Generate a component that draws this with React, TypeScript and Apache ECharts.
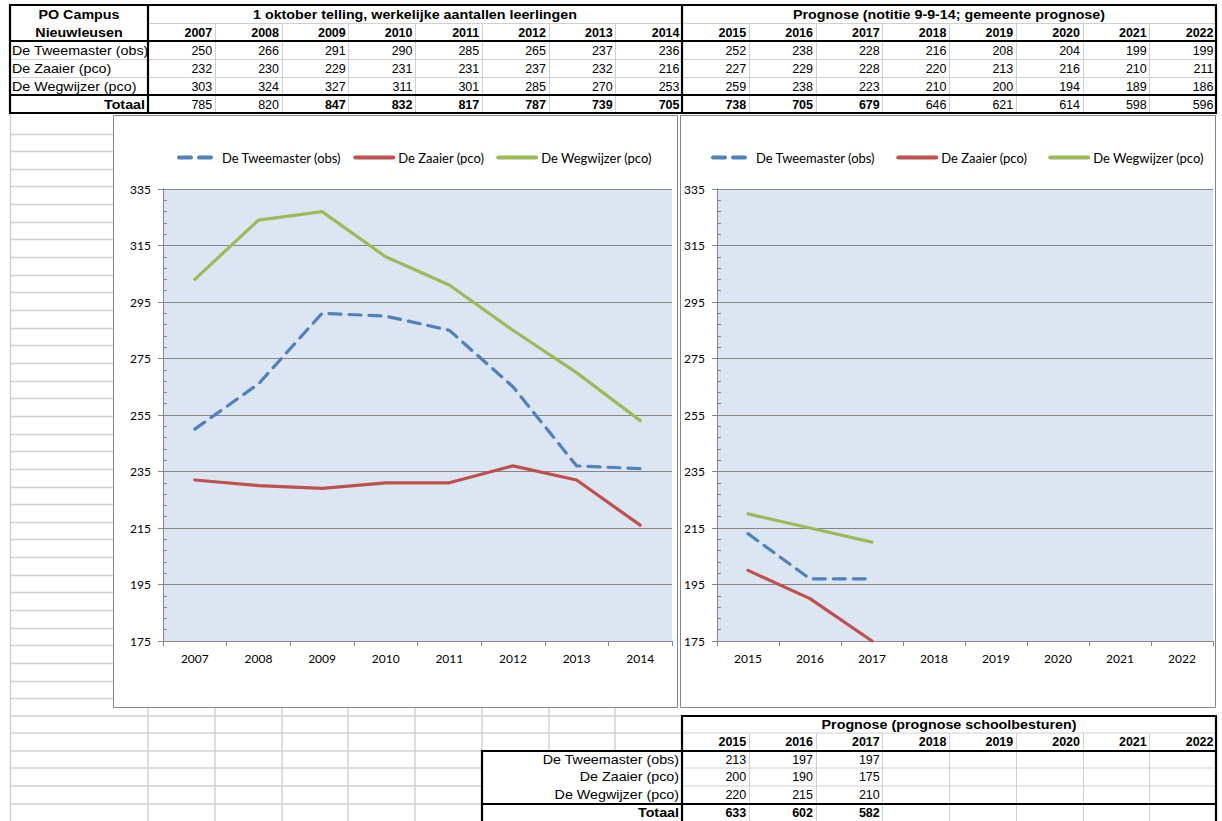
import React, { useEffect, useRef } from "react";
import * as echarts from "echarts";

// ---------- DATA ----------
const yearsActual = ["2007", "2008", "2009", "2010", "2011", "2012", "2013", "2014"];
const yearsForecast = ["2015", "2016", "2017", "2018", "2019", "2020", "2021", "2022"];
const schoolNames = ["De Tweemaster (obs)", "De Zaaier (pco)", "De Wegwijzer (pco)"];

const tweemasterActual = [250, 266, 291, 290, 285, 265, 237, 236];
const zaaierActual = [232, 230, 229, 231, 231, 237, 232, 216];
const wegwijzerActual = [303, 324, 327, 311, 301, 285, 270, 253];
const totalActual = [785, 820, 847, 832, 817, 787, 739, 705];
const totalActualBold = [false, false, true, true, true, true, true, true];

const tweemasterGemeente = [252, 238, 228, 216, 208, 204, 199, 199];
const zaaierGemeente = [227, 229, 228, 220, 213, 216, 210, 211];
const wegwijzerGemeente = [259, 238, 223, 210, 200, 194, 189, 186];
const totalGemeente = [738, 705, 679, 646, 621, 614, 598, 596];
const totalGemeenteBold = [true, true, true, false, false, false, false, false];

const tweemasterBesturen = [213, 197, 197];
const zaaierBesturen = [200, 190, 175];
const wegwijzerBesturen = [220, 215, 210];
const totalBesturen = [633, 602, 582];

const titleCampus = ["PO Campus", "Nieuwleusen"];
const titleActual = "1 oktober telling, werkelijke aantallen leerlingen";
const titleGemeente = "Prognose (notitie 9-9-14; gemeente prognose)";
const titleBesturen = "Prognose (prognose schoolbesturen)";
const totalLabel = "Totaal";

const yMin = 175;
const yMax = 335;
const yStep = 20;
const yMinorStep = 4;

// ---------- STYLE ----------
const COLORS = ["#4F81BD", "#C0504D", "#9BBB59"];
const TABLE_FONT = "'Liberation Sans', Arial, sans-serif";
const CHART_FONT = "Lato, 'Open Sans', sans-serif";
const GRID_GRAY = "#D0D0D0";
const AXIS_GRAY = "#868686";

const LEFT_X = 10;
const LABEL_RIGHT = 148;
const COLW = 66.75;
const RIGHT_X = 1216;
const colX = (k: number) => LABEL_RIGHT + k * COLW;

function buildGraphic() {
  const G: any[] = [];
  const line = (x1: number, y1: number, x2: number, y2: number, stroke: string, w: number, z = -10) =>
    G.push({ type: "line", silent: true, z, shape: { x1, y1, x2, y2 }, style: { stroke, lineWidth: w } });
  const text = (t: string, x: number, y: number, align: string, bold = false, numeric = false) =>
    G.push({
      type: "text",
      silent: true,
      z: 50,
      x,
      y,
      scaleX: numeric ? 1 : 1.1,
      style: {
        text: t,
        fill: "#000",
        fontSize: numeric ? 12.5 : 13,
        fontFamily: TABLE_FONT,
        fontWeight: bold ? "bold" : "normal",
        align,
        verticalAlign: "middle",
      },
    });

  // ---- top table ----
  const T0 = 5;
  const RH = 18;
  const ry = (i: number) => T0 + i * RH;
  line(LABEL_RIGHT, ry(1) + 0.5, RIGHT_X, ry(1) + 0.5, GRID_GRAY, 1);
  line(LEFT_X, ry(3) + 0.5, RIGHT_X, ry(3) + 0.5, GRID_GRAY, 1);
  line(LEFT_X, ry(4) + 0.5, RIGHT_X, ry(4) + 0.5, GRID_GRAY, 1);
  for (let k = 1; k < 16; k++) {
    if (k === 8) continue;
    line(Math.round(colX(k)) + 0.5, ry(1), Math.round(colX(k)) + 0.5, ry(6), GRID_GRAY, 1);
  }
  [0, 2, 5, 6].forEach((i) => line(LEFT_X - 1, ry(i), RIGHT_X + 1, ry(i), "#000", 2.2, 5));
  [LEFT_X, LABEL_RIGHT, colX(8), RIGHT_X].forEach((x) => line(Math.round(x), ry(0), Math.round(x), ry(6), "#000", 2.2, 5));

  const cy = (i: number) => ry(i) + RH / 2 + 0.5;
  text(titleCampus[0], (LEFT_X + LABEL_RIGHT) / 2, cy(0), "center", true);
  text(titleCampus[1], (LEFT_X + LABEL_RIGHT) / 2, cy(1), "center", true);
  text(titleActual, colX(4), cy(0), "center", true);
  text(titleGemeente, colX(12), cy(0), "center", true);
  const allYears = yearsActual.concat(yearsForecast);
  allYears.forEach((y, k) => text(y, colX(k + 1) - 2.5, cy(1), "right", true, true));
  const rowsActual = [tweemasterActual, zaaierActual, wegwijzerActual];
  const rowsGem = [tweemasterGemeente, zaaierGemeente, wegwijzerGemeente];
  schoolNames.forEach((n, r) => {
    text(n, LEFT_X + 2, cy(2 + r), "left");
    rowsActual[r].forEach((v, k) => text(String(v), colX(k + 1) - 2.5, cy(2 + r), "right", false, true));
    rowsGem[r].forEach((v, k) => text(String(v), colX(k + 9) - 2.5, cy(2 + r), "right", false, true));
  });
  text(totalLabel, LABEL_RIGHT - 3, cy(5), "right", true);
  totalActual.forEach((v, k) => text(String(v), colX(k + 1) - 2.5, cy(5), "right", totalActualBold[k], true));
  totalGemeente.forEach((v, k) => text(String(v), colX(k + 9) - 2.5, cy(5), "right", totalGemeenteBold[k], true));

  // ---- spreadsheet area left of / below the charts ----
  const S0 = 133.5;
  const SH = 17.65;
  line(LEFT_X + 0.5, ry(6), LEFT_X + 0.5, 821, GRID_GRAY, 1.5);
  for (let k = 0; S0 + k * SH < 708; k++) {
    const y = Math.round(S0 + k * SH) + 0.5;
    line(LEFT_X, y, 113, y, GRID_GRAY, 1.5);
  }
  const by = (k: number) => Math.round(715.5 + k * SH);
  const X481 = Math.round(colX(5));
  const X682 = Math.round(colX(8));
  line(LEFT_X, by(0), X682, by(0), GRID_GRAY, 1.5);
  line(LEFT_X, by(1), X682, by(1), GRID_GRAY, 1.5);
  line(X682, by(1), RIGHT_X, by(1), GRID_GRAY, 1);
  [2, 3, 4, 5].forEach((k) => line(LEFT_X, by(k), X481, by(k), GRID_GRAY, 1.5));
  [3, 4].forEach((k) => line(X682, by(k), RIGHT_X, by(k), GRID_GRAY, 1));
  [1, 2, 3, 4].forEach((k) => line(Math.round(colX(k)), 708, Math.round(colX(k)), 821, GRID_GRAY, 1.5));
  line(LABEL_RIGHT, 708, LABEL_RIGHT, 821, GRID_GRAY, 1.5);
  [5, 6, 7].forEach((k) => line(Math.round(colX(k)), 708, Math.round(colX(k)), by(2), GRID_GRAY, 1.5));
  for (let k = 9; k < 16; k++) line(Math.round(colX(k)) + 0.5, by(1), Math.round(colX(k)) + 0.5, 821, GRID_GRAY, 1);
  line(X682 - 1, by(0), RIGHT_X + 1, by(0), "#000", 2.2, 5);
  line(X481 - 1, by(2), RIGHT_X + 1, by(2), "#000", 2.2, 5);
  line(X481 - 1, by(5), RIGHT_X + 1, by(5), "#000", 2.2, 5);
  line(X682, by(0), X682, 821, "#000", 2.2, 5);
  line(X481, by(2), X481, 821, "#000", 2.2, 5);
  line(RIGHT_X, by(0), RIGHT_X, 821, "#000", 2.2, 5);

  const bcy = (k: number) => by(k) + SH / 2;
  text(titleBesturen, colX(12), bcy(0), "center", true);
  yearsForecast.forEach((y, k) => text(y, colX(k + 9) - 2.5, bcy(1), "right", true, true));
  const rowsBest = [tweemasterBesturen, zaaierBesturen, wegwijzerBesturen];
  schoolNames.forEach((n, r) => {
    text(n, X682 - 3, bcy(2 + r), "right");
    rowsBest[r].forEach((v, k) => text(String(v), colX(k + 9) - 2.5, bcy(2 + r), "right", false, true));
  });
  text(totalLabel, X682 - 3, bcy(5), "right", true);
  totalBesturen.forEach((v, k) => text(String(v), colX(k + 9) - 2.5, bcy(5), "right", true, true));

  // ---- chart frames ----
  G.push({ type: "rect", silent: true, z: -5, shape: { x: 113.5, y: 115.5, width: 564, height: 592 }, style: { fill: "#fff", stroke: AXIS_GRAY, lineWidth: 1 } });
  G.push({ type: "rect", silent: true, z: -5, shape: { x: 680.5, y: 115.5, width: 535, height: 592 }, style: { fill: "#fff", stroke: AXIS_GRAY, lineWidth: 1 } });
  return G;
}

function App() {
  const ref = useRef<HTMLDivElement>(null);
  useEffect(() => {
    if (!ref.current) return;
    const chart = echarts.init(ref.current, null, { renderer: "svg" });
    const labelStyle = { color: "#000", fontFamily: CHART_FONT, fontSize: 12 };
    const mkX = (gi: number, data: string[]) => ({
      type: "category",
      gridIndex: gi,
      data,
      boundaryGap: true,
      axisLine: { show: true, lineStyle: { color: AXIS_GRAY, width: 1 } },
      axisTick: { show: true, length: 5, alignWithLabel: false, lineStyle: { color: AXIS_GRAY } },
      axisLabel: { ...labelStyle, interval: 0, margin: 11 },
      splitLine: { show: false },
    });
    const mkY = (gi: number, margin: number) => ({
      type: "value",
      gridIndex: gi,
      position: "left",
      min: yMin,
      max: yMax,
      interval: yStep,
      axisLine: { show: true, lineStyle: { color: AXIS_GRAY, width: 1 } },
      axisTick: { show: true, length: 5, lineStyle: { color: AXIS_GRAY } },
      axisLabel: { ...labelStyle, margin },
      splitLine: { show: true, lineStyle: { color: AXIS_GRAY, width: 1 } },
    });
    const mkMinor = (gi: number) => ({
      type: "value",
      gridIndex: gi,
      position: "left",
      min: yMin,
      max: yMax,
      interval: yMinorStep,
      axisLine: { show: true, lineStyle: { color: AXIS_GRAY, width: 1 } },
      axisTick: { show: true, inside: true, length: 4, lineStyle: { color: AXIS_GRAY } },
      axisLabel: { show: false },
      splitLine: { show: false },
    });
    const lineStyleFor = (i: number) => ({
      color: COLORS[i],
      width: 3.2,
      type: i === 0 ? [12, 8] : "solid",
      cap: "round",
      join: "round",
    });
    const actualSets = [tweemasterActual, zaaierActual, wegwijzerActual];
    const besturenSets = [tweemasterBesturen, zaaierBesturen, wegwijzerBesturen];
    const series: any[] = [];
    schoolNames.forEach((n, i) => {
      series.push({
        type: "line", name: n, xAxisIndex: 0, yAxisIndex: 0, data: actualSets[i],
        symbol: "none", silent: true, lineStyle: lineStyleFor(i), itemStyle: { color: COLORS[i] },
      });
    });
    schoolNames.forEach((n, i) => {
      series.push({
        type: "line", name: n, xAxisIndex: 1, yAxisIndex: 1, data: besturenSets[i],
        symbol: "none", silent: true, lineStyle: lineStyleFor(i), itemStyle: { color: COLORS[i] },
      });
    });
    const legendBase = {
      data: schoolNames,
      top: 151,
      padding: 0,
      itemWidth: 38,
      itemHeight: 10,
      selectedMode: false,
      itemStyle: { opacity: 0 },
      lineStyle: { width: 4 },
      textStyle: { ...labelStyle, fontSize: 13 },
    };
    chart.setOption({
      animation: false,
      backgroundColor: "#fff",
      graphic: { elements: buildGraphic() },
      legend: [
        { ...legendBase, left: 177, itemGap: 12 },
        { ...legendBase, left: 711, itemGap: 21 },
      ],
      grid: [
        { left: 163, top: 189, width: 509, height: 452, show: true, backgroundColor: "#DCE6F2", borderWidth: 0 },
        { left: 717, top: 189, width: 496, height: 452, show: true, backgroundColor: "#DCE6F2", borderWidth: 0 },
      ],
      xAxis: [mkX(0, yearsActual), mkX(1, yearsForecast)],
      yAxis: [mkY(0, 12), mkY(1, 12), mkMinor(0), mkMinor(1)],
      series,
    });
    return () => chart.dispose();
  }, []);
  return <div ref={ref} style={{ position: "fixed", left: 0, top: 0, width: 1222, height: 821 }} />;
}

export default App;
